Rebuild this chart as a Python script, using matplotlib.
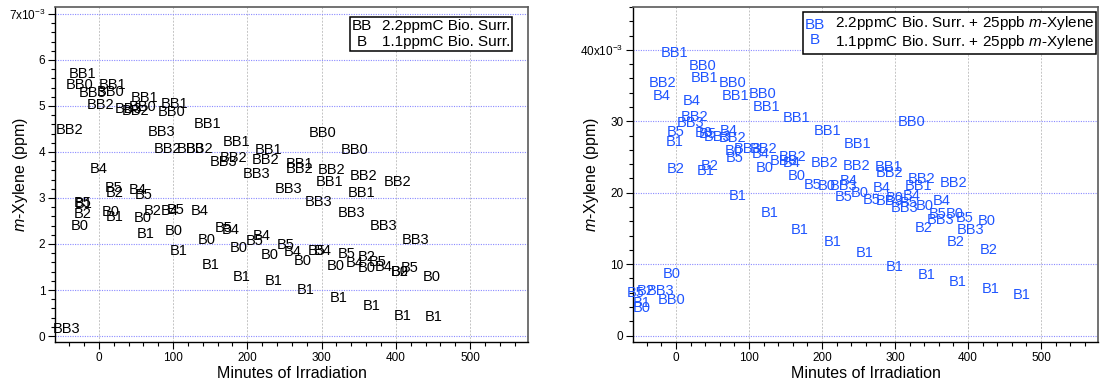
import numpy as np
import matplotlib
matplotlib.use("Agg")
import matplotlib.pyplot as plt
from matplotlib.ticker import MultipleLocator, FuncFormatter
from matplotlib.offsetbox import AnchoredOffsetbox, TextArea, HPacker, VPacker

plt.rcParams['font.family'] = ['Liberation Sans', 'DejaVu Sans']
plt.rcParams['mathtext.fontset'] = 'custom'
plt.rcParams['mathtext.rm'] = 'Liberation Sans'
plt.rcParams['mathtext.it'] = 'Liberation Sans:italic'

MILLI = 1e-3  # concentrations below are given in units of 10^-3 ppm

# ---- Surrogate-only runs (m-xylene background) ----
bb0_min = [-26, 16, 59, 98, 301, 344]
bb0_ppm = [5.49, 5.33, 5.00, 4.90, 4.45, 4.08]
bb1_min = [-22, 19, 61, 102, 146, 186, 228, 270, 311, 354]
bb1_ppm = [5.72, 5.48, 5.20, 5.08, 4.64, 4.24, 4.07, 3.77, 3.37, 3.14]
bb2_min = [-40, 3, 50, 92, 136, 182, 225, 270, 313, 357, 403]
bb2_ppm = [4.52, 5.05, 4.92, 4.09, 4.09, 3.91, 3.85, 3.66, 3.63, 3.50, 3.37]
bb3_min = [-43, -8, 40, 84, 123, 168, 212, 255, 296, 340, 384, 427]
bb3_ppm = [0.18, 5.32, 4.97, 4.46, 4.09, 3.81, 3.56, 3.23, 2.95, 2.70, 2.43, 2.12]

b0_min = [-26, 16, 59, 101, 145, 188, 230, 275, 319, 361, 405, 448]
b0_ppm = [2.43, 2.72, 2.59, 2.32, 2.12, 1.95, 1.79, 1.66, 1.56, 1.51, 1.43, 1.32]
b1_min = [-21, 22, 63, 108, 150, 193, 236, 279, 323, 367, 409, 451]
b1_ppm = [2.90, 2.62, 2.24, 1.88, 1.57, 1.31, 1.22, 1.03, 0.85, 0.69, 0.46, 0.45]
b2_min = [-22, 22, 72, 361, 405]
b2_ppm = [2.69, 3.13, 2.76, 1.76, 1.43]
b4_min = [0, 52, 96, 136, 178, 220, 261, 302, 344, 384]
b4_ppm = [3.66, 3.20, 2.76, 2.76, 2.34, 2.21, 1.86, 1.89, 1.63, 1.54]
b5_min = [-22, 20, 61, 104, 168, 210, 252, 294, 334, 375, 418]
b5_ppm = [2.93, 3.26, 3.09, 2.77, 2.39, 2.10, 2.01, 1.88, 1.81, 1.64, 1.52]

# ---- Surrogate + 25 ppb m-xylene runs ----
xbb0_min = [-6, 36, 77, 119, 323]
xbb0_ppm = [5.2, 38.0, 35.5, 34.0, 30.1]
xbb1_min = [-2, 39, 81, 124, 165, 207, 249, 291, 332]
xbb1_ppm = [39.7, 36.2, 33.8, 32.2, 30.7, 28.9, 27.0, 23.8, 21.2]
xbb2_min = [-19, 25, 77, 120, 160, 203, 247, 292, 336, 380]
xbb2_ppm = [35.5, 30.8, 27.8, 26.3, 25.2, 24.4, 24.0, 23.0, 22.1, 21.5]
xbb3_min = [-21, 20, 57, 98, 147, 229, 293, 313, 362, 404]
xbb3_ppm = [6.5, 30.0, 28.0, 26.3, 24.6, 21.1, 19.0, 18.0, 16.4, 15.0]

xb0_min = [-47, -6, 38, 79, 121, 165, 206, 252, 300, 341, 382, 425]
xb0_ppm = [4.0, 8.9, 28.6, 26.1, 23.7, 22.5, 21.1, 20.1, 19.5, 18.4, 17.2, 16.2]
xb1_min = [-47, -2, 41, 85, 128, 170, 214, 258, 300, 344, 386, 431, 473]
xb1_ppm = [4.8, 27.3, 23.3, 19.7, 17.4, 15.0, 13.3, 11.75, 9.8, 8.7, 7.7, 6.7, 5.9]
xb2_min = [-41, 0, 46, 339, 383, 428]
xb2_ppm = [6.5, 23.5, 24.0, 15.3, 13.3, 12.2]
xb4_min = [-20, 21, 72, 116, 158, 237, 282, 323, 364]
xb4_ppm = [33.8, 33.1, 28.9, 25.6, 24.3, 21.9, 20.9, 19.7, 19.0]
xb5_min = [-56, -1, 43, 80, 187, 230, 268, 318, 359, 395]
xb5_ppm = [6.2, 28.7, 28.4, 25.1, 21.3, 19.6, 19.2, 18.7, 17.2, 16.6]

left_series = [("BB0", bb0_min, bb0_ppm), ("BB1", bb1_min, bb1_ppm),
               ("BB2", bb2_min, bb2_ppm), ("BB3", bb3_min, bb3_ppm),
               ("B0", b0_min, b0_ppm), ("B1", b1_min, b1_ppm),
               ("B2", b2_min, b2_ppm), ("B4", b4_min, b4_ppm),
               ("B5", b5_min, b5_ppm)]
right_series = [("BB0", xbb0_min, xbb0_ppm), ("BB1", xbb1_min, xbb1_ppm),
                ("BB2", xbb2_min, xbb2_ppm), ("BB3", xbb3_min, xbb3_ppm),
                ("B0", xb0_min, xb0_ppm), ("B1", xb1_min, xb1_ppm),
                ("B2", xb2_min, xb2_ppm), ("B4", xb4_min, xb4_ppm),
                ("B5", xb5_min, xb5_ppm)]

legend_left = [("BB", "2.2ppmC Bio. Surr."), ("B", "1.1ppmC Bio. Surr.")]
legend_right = [("BB", "2.2ppmC Bio. Surr. + 25ppb $m$-Xylene"),
                ("B", "1.1ppmC Bio. Surr. + 25ppb $m$-Xylene")]

BLUE = "#1f55ff"
W, H = 1101, 388
fig = plt.figure(figsize=(W / 100, H / 100), dpi=100)

ax_l = fig.add_axes([55 / W, (H - 342) / H, 473 / W, 335 / H])
ax_r = fig.add_axes([633 / W, (H - 342) / H, 465 / W, 335 / H])


def style_axes(ax, ylim, ymajor, yminor, top_label, ylabel_x):
    ax.set_xlim(-59, 578)
    ax.set_ylim(ylim[0] * MILLI, ylim[1] * MILLI)
    ax.xaxis.set_major_locator(MultipleLocator(100))
    ax.xaxis.set_minor_locator(MultipleLocator(20))
    ax.yaxis.set_major_locator(MultipleLocator(ymajor * MILLI))
    ax.yaxis.set_minor_locator(MultipleLocator(yminor * MILLI))

    def fmt(v, pos):
        n = int(round(v / MILLI))
        if n == top_label:
            return f"{n}x10$^{{-3}}$"
        return f"{n}"
    ax.yaxis.set_major_formatter(FuncFormatter(fmt))
    ax.tick_params(which="both", direction="out", labelsize=8.5,
                   top=False, right=False, width=0.8)
    ax.tick_params(which="major", length=5, pad=2)
    ax.tick_params(which="minor", length=3)
    ax.grid(True, axis="y", which="major", color="#8a8aff",
            linestyle=(0, (1, 1.2)), linewidth=0.8)
    ax.grid(True, axis="x", which="major", color="#c4c4c4",
            linestyle=(0, (2, 1.5)), linewidth=0.7)
    ax.set_axisbelow(True)
    for side in ("top", "right"):
        ax.spines[side].set_color("#5a5a5a")
        ax.spines[side].set_linewidth(1.2)
    for side in ("left", "bottom"):
        ax.spines[side].set_linewidth(1.0)
    ax.set_xlabel("Minutes of Irradiation", fontsize=11.5, labelpad=2)
    ax.set_ylabel("$m$-Xylene (ppm)", fontsize=11.5)
    ax.yaxis.set_label_coords(ylabel_x, 0.5)


def draw_labels(ax, series, color):
    for name, t, c in series:
        for xi, yi in zip(t, np.asarray(c) * MILLI):
            ax.text(xi, yi, name, ha="center", va="center_baseline",
                    fontsize=10.5, color=color, clip_on=False)


def add_legend(ax, rows, prefix_color, anchor):
    pre = VPacker(children=[TextArea(p, textprops=dict(color=prefix_color, fontsize=11))
                            for p, _ in rows], align="center", pad=0, sep=1)
    txt = VPacker(children=[TextArea(s, textprops=dict(color="black", fontsize=11))
                            for _, s in rows], align="left", pad=0, sep=1)
    box = HPacker(children=[pre, txt], align="center", pad=0, sep=7)
    ab = AnchoredOffsetbox(loc="upper right", child=box, pad=0.15, borderpad=0,
                           frameon=True, bbox_to_anchor=anchor,
                           bbox_transform=ax.transAxes)
    ab.patch.set_edgecolor("black")
    ab.patch.set_linewidth(1.1)
    ab.patch.set_boxstyle("square", pad=0)
    ax.add_artist(ab)


style_axes(ax_l, (-0.13, 7.15), 1, 0.2, 7, -0.053)
style_axes(ax_r, (-0.9, 46.0), 10, 2, 40, -0.069)
draw_labels(ax_l, left_series, "black")
draw_labels(ax_r, right_series, BLUE)
add_legend(ax_l, legend_left, "black", (0.966, 0.970))
add_legend(ax_r, legend_right, BLUE, (0.996, 0.985))

fig.savefig("out.png", dpi=100)
